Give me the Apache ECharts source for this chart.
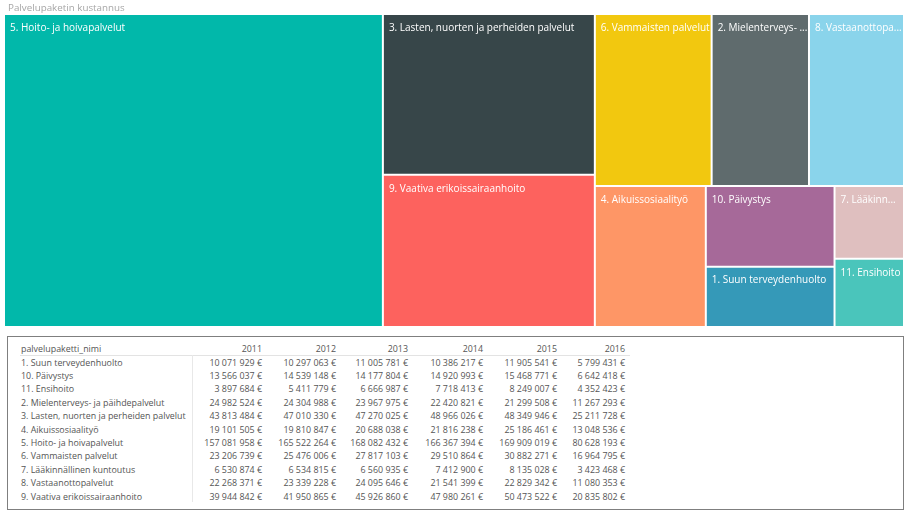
<!DOCTYPE html>
<html><head><meta charset="utf-8">
<script src="https://cdn.jsdelivr.net/npm/echarts@6/dist/echarts.min.js"></script>
<style>
html,body{margin:0;padding:0;background:#fff;}
#chart{position:absolute;left:0;top:0;width:909px;height:332px;}
#tbl{position:absolute;left:7px;top:336px;width:897px;height:174px;border:1px solid #7f7f7f;box-sizing:border-box;font-family:'Open Sans',sans-serif;font-size:8.9px;color:#555;}
#tbl div{position:absolute;white-space:nowrap;line-height:14px;height:14px;}
</style></head><body>
<div id="chart"></div><div id="tbl"></div>
<script>
const names = [
  '1. Suun terveydenhuolto',
  '10. Päivystys',
  '11. Ensihoito',
  '2. Mielenterveys- ja päihdepalvelut',
  '3. Lasten, nuorten ja perheiden palvelut',
  '4. Aikuissosiaalityö',
  '5. Hoito- ja hoivapalvelut',
  '6. Vammaisten palvelut',
  '7. Lääkinnällinen kuntoutus',
  '8. Vastaanottopalvelut',
  '9. Vaativa erikoissairaanhoito'
];
const years = ['2011','2012','2013','2014','2015','2016'];
const v2011 = [10071929,13566037,3897684,24982524,43813484,19101505,157081958,23206739,6530874,22268371,39944842];
const v2012 = [10297063,14539148,5411779,24304988,47010330,19810847,165522264,25476006,6534815,23339228,41950865];
const v2013 = [11005781,14177804,6666987,23967975,47270025,20688038,168082432,27817103,6560935,24095646,45926860];
const v2014 = [10386217,14920993,7718413,22420821,48966026,21816238,166367394,29510864,7412900,21541399,47980261];
const v2015 = [11905541,15468771,8249007,21299508,48349946,25186461,169909019,30882271,8135028,22829342,50473522];
const v2016 = [5799431,6642418,4352423,11267293,25211728,13048536,80628193,16964795,3423468,11080353,20835802];
const colors = ['#3599B8','#A66999','#4AC5BB','#5F6B6D','#374649','#FE9666','#01B8AA','#F2C80F','#DFBFBF','#8AD4EB','#FD625E'];

const byYear = [v2011,v2012,v2013,v2014,v2015,v2016];
const totals = names.map((n,i)=>byYear.reduce((s,arr)=>s+arr[i],0));

const chart = echarts.init(document.getElementById('chart'), null, {renderer:'canvas'});
chart.setOption({
  animation:false,
  title:{text:'Palvelupaketin kustannus',left:3,top:-2,textStyle:{fontFamily:'Open Sans',fontSize:9.8,fontWeight:'normal',color:'#a6a6a6'}},
  series:[{
    type:'treemap',
    left:5, top:15, width:898, height:311,
    roam:false, nodeClick:false,
    breadcrumb:{show:false},
    squareRatio:1.4,
    itemStyle:{borderWidth:0,gapWidth:2,borderColor:'#fff'},
    levels:[{itemStyle:{gapWidth:2,borderWidth:0,borderColor:'#fff'}}],
    label:{show:true,position:'insideTopLeft',color:'#fff',fontFamily:'Open Sans',fontSize:10,padding:[8,3.8,0,0],offset:[5,0],overflow:'truncate',ellipsis:'...'},
    data:names.map((n,i)=>({name:n,value:totals[i],itemStyle:{color:colors[i]}}))
  }]
});

function fmt(v){return String(v).replace(/\B(?=(\d{3})+(?!\d))/g,' ')+' €';}
const tbl=document.getElementById('tbl');
const ox=8, oy=337;
const colRight=[262,336,408,483,557,625];
function cell(text,x,cy,align){
  const d=document.createElement('div');
  d.textContent=text;
  d.style.top=(cy-7-oy)+'px';
  if(align==='right'){d.style.left=(x-150-ox)+'px';d.style.width='150px';d.style.textAlign='right';}
  else{d.style.left=(x-ox)+'px';}
  tbl.appendChild(d);
}
cell('palvelupaketti_nimi',21,348.5,'left');
years.forEach((y,j)=>cell(y,colRight[j],348.5,'right'));
names.forEach((n,i)=>{
  const cy=362.5+i*13.4;
  cell(n,21,cy,'left');
  byYear.forEach((arr,j)=>cell(fmt(arr[i]),colRight[j],cy,'right'));
});
const hl=document.createElement('div');
hl.style.cssText='left:'+(20-ox)+'px;top:'+(355-oy)+'px;width:'+(630-20)+'px;height:1px;background:#e3e3e3;line-height:1px;';
tbl.appendChild(hl);
const vl=document.createElement('div');
vl.style.cssText='left:'+(192-ox)+'px;top:'+(355-oy)+'px;width:1px;height:'+(502-355)+'px;background:#e8e8e8;line-height:1px;';
tbl.appendChild(vl);
</script>
</body></html>
